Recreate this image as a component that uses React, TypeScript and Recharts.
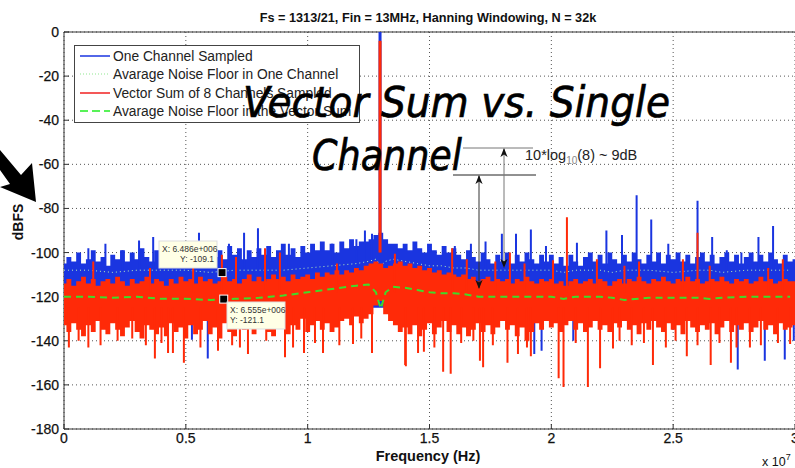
import { Area, CartesianGrid, ComposedChart, Line, ReferenceLine, XAxis, YAxis } from "recharts";

const BIN_HZ = 200000;
const xTicks = [0, 5000000, 10000000, 15000000, 20000000, 25000000, 30000000];
const yTicks = [0, -20, -40, -60, -80, -100, -120, -140, -160, -180];

// top of the blue trace, one value per 0.2 MHz
const blueTop = [
  -105, -102, -104, -100, -105, -103, -99, -104, -102, -106,
  -101, -103, -99, -104, -100, -103, -98, -102, -104, -99,
  -102, -98, -103, -100, -104, -99, -102, -97, -103, -100,
  -98, -102, -99, -103, -97, -101, -98, -103, -99, -102,
  -98, -101, -97, -102, -99, -96, -101, -98, -102, -97,
  -100, -96, -99, -95, -99, -96, -100, -95, -98, -94,
  -97, -95, -95, -94, -92, -91, -94, -96, -96, -98,
  -96, -99, -95, -98, -100, -96, -99, -101, -97, -100,
  -98, -101, -103, -99, -102, -104, -100, -103, -105, -101,
  -104, -100, -105, -101, -104, -100, -103, -105, -101, -104,
  -101, -105, -102, -106, -101, -104, -106, -102, -100, -104,
  -101, -105, -100, -103, -105, -101, -104, -100, -103, -105,
  -101, -104, -100, -105, -101, -103, -100, -104, -101, -105,
  -102, -100, -104, -101, -105, -102, -100, -104, -101, -105,
  -102, -100, -104, -101, -104, -100, -103, -105, -101, -104, -103,
];

const redTop = [
  -114, -112, -115, -113, -111, -114, -112, -115, -113, -112,
  -114, -111, -113, -115, -112, -114, -113, -111, -114, -112,
  -113, -115, -112, -114, -111, -113, -112, -114, -111, -113,
  -112, -114, -113, -111, -113, -112, -114, -112, -110, -113,
  -111, -113, -112, -110, -112, -111, -113, -110, -112, -111,
  -110, -112, -109, -111, -109, -110, -108, -110, -108, -109,
  -107, -108, -106, -105, -104, -105, -107, -106, -105, -104,
  -106, -105, -107, -106, -108, -107, -109, -108, -110, -109,
  -110, -111, -110, -112, -111, -113, -112, -111, -113, -112,
  -113, -112, -114, -112, -113, -111, -113, -114, -112, -113,
  -112, -114, -113, -115, -113, -112, -114, -113, -112, -114,
  -112, -113, -115, -113, -112, -114, -112, -113, -111, -113,
  -114, -112, -113, -111, -113, -114, -112, -113, -111, -113,
  -112, -114, -113, -112, -113, -111, -113, -114, -112, -113,
  -112, -114, -113, -111, -113, -112, -114, -113, -112, -113, -113,
];

const redLow = [
  -133, -136, -132, -135, -138, -133, -136, -131, -135, -137,
  -132, -135, -138, -134, -131, -136, -139, -133, -135, -137,
  -134, -138, -132, -136, -134, -139, -133, -137, -135, -131,
  -137, -134, -139, -132, -136, -138, -133, -135, -131, -137,
  -134, -132, -136, -138, -131, -134, -137, -133, -135, -130,
  -136, -133, -131, -135, -132, -136, -134, -131, -130, -133,
  -129, -132, -130, -128, -124, -122, -128, -131, -133, -136,
  -134, -137, -133, -138, -135, -132, -137, -134, -131, -136,
  -133, -137, -134, -138, -135, -132, -136, -133, -137, -134,
  -131, -135, -133, -138, -134, -140, -136, -132, -135, -131,
  -134, -132, -136, -133, -131, -135, -132, -136, -134, -131,
  -135, -133, -136, -132, -134, -131, -135, -133, -137, -132,
  -135, -131, -134, -136, -132, -135, -133, -137, -131, -134,
  -136, -133, -135, -132, -137, -134, -131, -136, -133, -135,
  -132, -136, -134, -131, -135, -133, -137, -132, -135, -134, -133,
];

const carrierHz = [12970000];
const blueCarrierDb = [0];
const redCarrierDb = [-4];

const blueSpikeHz = [
  1000000, 1700000, 2400000, 3080000, 3660000, 5540000, 6770000, 7390000, 7960000, 9230000,
  11000000, 12000000, 12350000, 12640000, 16040000, 16700000, 17300000, 17970000, 18550000, 19160000,
  19780000, 21050000, 22260000, 22900000, 23500000, 24100000, 24800000, 26000000, 26600000, 27200000,
  27800000, 28500000, 29100000,
];
const blueSpikeDb = [
  -98, -96, -99, -94.5, -93, -91, -96, -91, -89, -96,
  -96, -94, -90, -91.5, -97, -96, -95, -91.5, -91.5, -89.5,
  -97, -95.5, -90, -92, -74, -85, -96, -76.5, -93, -99,
  -100, -93, -88,
];
const blueDipHz = [5250000, 5900000, 19300000, 19600000, 20900000, 25000000, 27650000, 28760000, 29580000, 29950000];
const blueDipDb = [-139.5, -148, -146, -144.5, -140, -135, -153, -149, -148.5, -140];

const redSpikeHz = [
  1200000, 3530000, 5300000, 6480000, 7060000, 8250000, 8860000, 11200000, 13580000, 15930000,
  16530000, 17700000, 18300000, 18900000, 20070000, 20640000, 21870000, 23000000, 23600000, 25400000,
  26000000, 26500000, 28900000, 29500000,
];
const redSpikeDb = [
  -104, -107, -105, -101, -102, -98, -100, -105, -100.5, -98,
  -103, -104, -100, -105, -103.5, -84, -103, -106, -104, -103,
  -91, -106, -107, -103,
];
const redDipHz = [
  200000, 1000000, 2200000, 3360000, 3730000, 4270000, 4470000, 4920000, 6320000, 7220000,
  7550000, 9070000, 9850000, 10630000, 11860000, 12640000, 14000000, 14030000, 14530000, 14770000,
  15560000, 15870000, 17070000, 17200000, 18200000, 18630000, 19160000, 20300000, 20500000, 21500000,
  22000000, 22530000, 24170000, 25560000, 26540000, 27370000, 28150000, 29800000,
  600000, 1500000, 2800000, 4000000, 5600000, 6900000, 8300000, 9400000, 10300000, 11300000,
  12200000, 15200000, 16300000, 16800000, 17600000, 19000000, 21000000, 22800000, 23300000, 23800000,
  24700000, 25100000, 26000000, 26900000, 27600000, 28600000, 29300000,
];
const redDipDb = [
  -143, -143, -140, -142, -148, -145.5, -145.5, -150, -144.5, -143,
  -146, -147.5, -145.5, -145.5, -141.5, -145.5, -151, -151.5, -145.5, -145,
  -154, -155, -149, -152, -150, -146, -147, -157, -161, -161,
  -152.5, -143.5, -151, -147, -151, -150, -143, -141.5,
  -140, -142, -139, -141, -143, -142, -140, -143, -141, -142,
  -139, -143, -141, -140, -142, -143, -141, -140, -142, -141,
  -143, -140, -142, -141, -143, -142, -141,
];

const floorHz = [
  0, 1000000, 2000000, 3000000, 4000000, 5000000, 6000000, 7000000, 8000000, 9000000,
  10000000, 11000000, 12000000, 12500000, 12800000, 13000000, 13200000, 13500000, 14000000, 14500000,
  15000000, 15500000, 16000000, 16500000, 17000000, 17500000, 18000000, 19000000, 20000000, 20500000,
  21000000, 22000000, 22500000, 23000000, 24000000, 25000000, 26000000, 26500000, 27000000, 28000000,
  29000000, 29800000,
];
const blueFloorDb = [
  -108, -108, -109, -108, -108, -108, -109, -108, -108, -108,
  -107, -106, -105, -104, -103, -106, -104, -103, -104, -105,
  -106, -106, -107, -107, -108, -108, -108, -108, -108, -109,
  -108, -108, -109, -108, -108, -109, -108, -108, -109, -108,
  -108, -108,
];
const greenFloorDb = [
  -120, -120, -120.5, -120, -121, -121, -121.5, -121, -120.5, -119.5,
  -118, -116.5, -115, -114.5, -118, -125.5, -118, -115.5, -116, -117,
  -118, -118.5, -118.5, -119, -120, -120, -120, -120, -120, -121,
  -120, -120, -120.5, -121.5, -120.5, -120.5, -120.5, -121, -120.5, -120,
  -120, -120,
];

const tipHz = [6486000, 6555000];
const tipDb = [-109.1, -121.1];

const bodyRows = blueTop.map((top, i) => ({
  f: i * BIN_HZ,
  blue: top,
  red: [redLow[i], redTop[i]],
}));
const floorRows = floorHz.map((f, i) => ({ f, blue: blueFloorDb[i], green: greenFloorDb[i] }));
const tipRows = tipHz.map((f, i) => ({ f, v: tipDb[i] }));

// each spike is its own stroke, the null breaks the line before the next one
const spikes = (hz: number[], db: number[], base: number) =>
  hz.flatMap((f, i) => [
    { f, v: base },
    { f, v: db[i] },
    { f, v: null },
  ]);

const BLUE = "#1a35e0";
const RED = "#ff2a08";
const AXIS = "#333";
const tickStyle = { fontFamily: "Liberation Sans", fontSize: 14, fill: "#111", stroke: "#111", strokeWidth: 0.25 };

const TipSquare = (props: any) => (
  <rect x={props.cx - 4} y={props.cy - 4} width={8} height={8} fill="#000" stroke="#fff" strokeWidth={1} />
);

function Overlay() {
  const legendRows = [
    { label: "One Channel Sampled", y: 61, color: BLUE, dash: undefined, width: 1.5 },
    { label: "Avarage Noise Floor in One Channel", y: 79, color: "#8fe88f", dash: "1 2", width: 1.2 },
    { label: "Vector Sum of 8 Channels Sampled", y: 98, color: "#f02020", dash: undefined, width: 1.5 },
    { label: "Avarage Noise Floor in the Vector Sum", y: 116, color: "#22ee22", dash: "8 4", width: 1.5 },
  ];
  return (
    <svg
      width={795}
      height={468}
      style={{ position: "absolute", left: 0, top: 0, pointerEvents: "none" }}
      fontFamily="Liberation Sans"
    >
      <defs>
        <marker id="head" viewBox="0 0 10 10" refX="9" refY="5" markerWidth="9" markerHeight="9" orient="auto-start-reverse">
          <path d="M0 1 L10 5 L0 9 L3 5 Z" fill="#111" />
        </marker>
      </defs>

      <text x={428} y={22} textAnchor="middle" fontSize={12.7} fontWeight="bold" fill="#111">
        Fs = 1313/21, Fin = 13MHz, Hanning Windowing, N = 32k
      </text>
      <text x={428} y={461} textAnchor="middle" fontSize={14.5} fontWeight="bold" fill="#111">
        Frequency (Hz)
      </text>
      <text transform="translate(23 222) rotate(-90)" textAnchor="middle" fontSize={14} fontWeight="bold" fill="#111">
        dBFS
      </text>
      <text x={762} y={466} fontSize={12.5} fill="#111">
        x 10
        <tspan dy={-6} fontSize={9}>7</tspan>
      </text>

      <rect x={74.5} y={45.5} width={285} height={77} fill="#fff" stroke="#444" />
      {legendRows.map((row) => (
        <g key={row.label}>
          <line x1={80} x2={110} y1={row.y - 5} y2={row.y - 5} stroke={row.color} strokeWidth={row.width} strokeDasharray={row.dash} />
          <text x={113} y={row.y} fontSize={13.8} fill="#222">
            {row.label}
          </text>
        </g>
      ))}

      <polygon points="36,202 32,163 21,175 0,150 0,170 10,184 0,187" fill="#000" />

      <line x1={463} x2={533} y1={148} y2={148} stroke="#777" />
      <line x1={453} x2={536} y1={175} y2={175} stroke="#222" />
      <line x1={504} x2={504} y1={149} y2={267} stroke="#777" markerStart="url(#head)" markerEnd="url(#head)" />
      <line x1={479} x2={479} y1={176} y2={288} stroke="#333" markerStart="url(#head)" markerEnd="url(#head)" />
      <text x={525} y={160} fontSize={14.5} fill="#222">
        10*log
        <tspan dy={4} fontSize={10} fill="#888">10</tspan>
        <tspan dy={-4}>(8) ~ 9dB</tspan>
      </text>

      <rect x={159} y={241} width={58} height={27} fill="#ffffe6" stroke="#ddd" />
      <text x={162} y={252} fontSize={8.5} fill="#333">X: 6.486e+006</text>
      <text x={214} y={262} fontSize={8.5} fill="#333" textAnchor="end">Y: -109.1</text>
      <rect x={227} y={302} width={58} height={27} fill="#ffffe6" stroke="#ddd" />
      <text x={230} y={313} fontSize={8.5} fill="#333">X: 6.555e+006</text>
      <text x={230} y={323} fontSize={8.5} fill="#333">Y: -121.1</text>

      <g fontFamily="DejaVu Sans" fontStyle="italic" fill="#000" stroke="#000" strokeWidth={0.7}>
        <text x={243} y={117} fontSize={42} textLength={427} lengthAdjust="spacingAndGlyphs">
          Vector Sum vs. Single
        </text>
        <text x={312} y={170} fontSize={42} textLength={150} lengthAdjust="spacingAndGlyphs">
          Channel
        </text>
      </g>
    </svg>
  );
}

export default function App() {
  return (
    <div style={{ position: "absolute", left: 0, top: 0, width: 795, height: 468, background: "#fff", overflow: "hidden" }}>
      <ComposedChart
        width={795}
        height={468}
        data={bodyRows}
        margin={{ top: 32, right: 0, bottom: 0, left: 0 }}
      >
        <CartesianGrid stroke="#555" strokeDasharray="1 3" />
        <XAxis
          dataKey="f"
          type="number"
          domain={[0, 30000000]}
          ticks={xTicks}
          tickFormatter={(v: number) => String(v / 10000000)}
          height={39}
          interval={0}
          stroke={AXIS}
          tickSize={-5}
          tickMargin={9}
          tick={tickStyle}
        />
        <YAxis
          type="number"
          domain={[-180, 0]}
          ticks={yTicks}
          width={64}
          interval={0}
          stroke={AXIS}
          tickSize={-5}
          tickMargin={10}
          tick={tickStyle}
        />
        <ReferenceLine y={0} stroke={AXIS} />
        <Area zIndex={501} dataKey="blue" type="step" baseValue={-125} stroke="none" fill={BLUE} fillOpacity={1} isAnimationActive={false} />
        <Line zIndex={502} data={spikes(blueSpikeHz, blueSpikeDb, -108)} dataKey="v" stroke={BLUE} strokeWidth={2} dot={false} isAnimationActive={false} />
        <Line zIndex={502} data={spikes(blueDipHz, blueDipDb, -125)} dataKey="v" stroke={BLUE} strokeWidth={2} dot={false} isAnimationActive={false} />
        <Line zIndex={502} data={spikes(carrierHz, blueCarrierDb, -100)} dataKey="v" stroke={BLUE} strokeWidth={3} dot={false} isAnimationActive={false} />
        <Line zIndex={503} data={floorRows} dataKey="blue" stroke="#b8f0b8" strokeWidth={1} strokeDasharray="1 3" dot={false} isAnimationActive={false} />
        <Area zIndex={504} dataKey="red" type="step" stroke="none" fill={RED} fillOpacity={1} isAnimationActive={false} />
        <Line zIndex={505} data={spikes(redSpikeHz, redSpikeDb, -118)} dataKey="v" stroke={RED} strokeWidth={2} dot={false} isAnimationActive={false} />
        <Line zIndex={505} data={spikes(redDipHz, redDipDb, -125)} dataKey="v" stroke={RED} strokeWidth={2} dot={false} isAnimationActive={false} />
        <Line zIndex={505} data={spikes(carrierHz, redCarrierDb, -100)} dataKey="v" stroke={RED} strokeWidth={3} dot={false} isAnimationActive={false} />
        <Line zIndex={506} data={floorRows} dataKey="green" stroke="#3fdc2a" strokeWidth={2} strokeDasharray="7 5" dot={false} isAnimationActive={false} />
        <Line zIndex={507} data={tipRows} dataKey="v" stroke="none" dot={<TipSquare />} isAnimationActive={false} />
      </ComposedChart>
      <Overlay />
    </div>
  );
}
